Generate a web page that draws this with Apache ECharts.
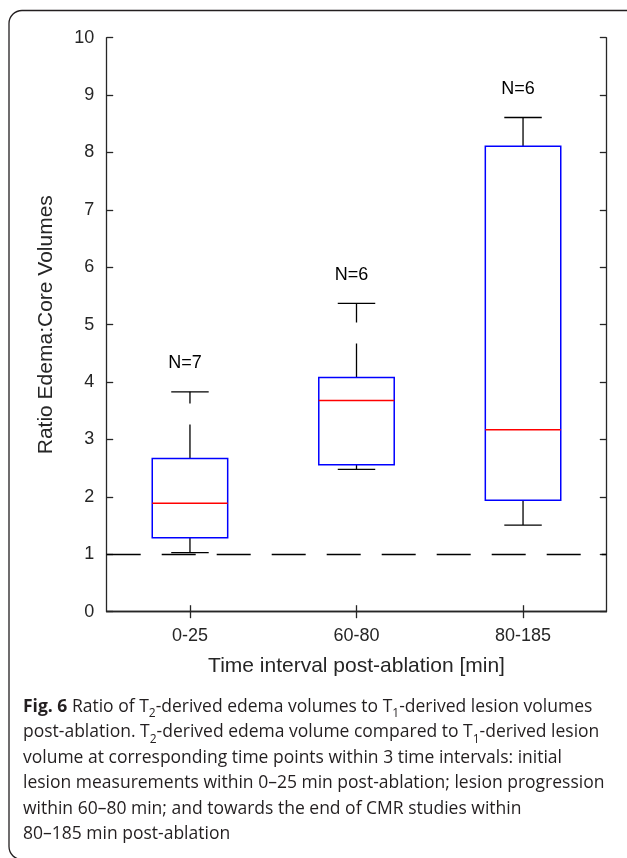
<!DOCTYPE html>
<html><head><meta charset="utf-8">
<script src="https://cdn.jsdelivr.net/npm/echarts@6/dist/echarts.min.js"></script>
<style>html,body{margin:0;padding:0;background:#fff}#c{width:627px;height:858px}</style>
</head><body><div id="c"></div>
<script>
// ---- data ----
const categories = ['0-25', '60-80', '80-185'];
const lowerWhisker = [1.03, 2.48, 1.51];
const q1 = [1.29, 2.56, 1.94];
const median = [1.89, 3.68, 3.17];
const q3 = [2.67, 4.08, 8.11];
const upperWhisker = [3.83, 5.37, 8.61];
const nLabels = ['N=7', 'N=6', 'N=6'];
const refValue = 1;
const yMin = 0, yMax = 10, yStep = 1;
const xTitle = 'Time interval post-ablation [min]';
const yTitle = 'Ratio Edema:Core Volumes';
const captionLines = [
  '{b|Fig. 6} Ratio of T{s|2}-derived edema volumes to T{s|1}-derived lesion volumes',
  'post-ablation. T{s|2}-derived edema volume compared to T{s|1}-derived lesion',
  'volume at corresponding time points within 3 time intervals: initial',
  'lesion measurements within 0\u201325 min post-ablation; lesion progression',
  'within 60\u201380 min; and towards the end of CMR studies within',
  '80\u2013185 min post-ablation'
];

// ---- styling ----
const axisColor = '#262626';
const font = '"Liberation Sans", Arial, Helvetica, sans-serif';
const capFont = '"Open Sans", "Noto Sans", sans-serif';
const capSize = 17.5;
const dash = [34, 21];
const labelOffset = 0.5;

const boxData = categories.map((c, i) => [i, lowerWhisker[i], q1[i], median[i], q3[i], upperWhisker[i], nLabels[i]]);

function renderBox(params, api) {
  const i = api.value(0);
  const cx = api.coord([i, 0])[0];
  const band = api.size([1, 0])[0];
  const half = band * 0.2265;
  const capHalf = band * 0.1125;
  const y = v => api.coord([i, v])[1];
  const yLo = y(api.value(1)), yQ1 = y(api.value(2)), yMed = y(api.value(3)),
        yQ3 = y(api.value(4)), yHi = y(api.value(5));
  const yLab = y(api.value(5) + labelOffset);
  const black = {stroke: '#000', lineWidth: 1.3, fill: null};
  return {
    type: 'group',
    children: [
      {type: 'line', shape: {x1: cx, y1: yQ3, x2: cx, y2: yHi}, style: Object.assign({lineDash: dash}, black)},
      {type: 'line', shape: {x1: cx, y1: yQ1, x2: cx, y2: yLo}, style: Object.assign({lineDash: dash}, black)},
      {type: 'line', shape: {x1: cx - capHalf, y1: yHi, x2: cx + capHalf, y2: yHi}, style: black},
      {type: 'line', shape: {x1: cx - capHalf, y1: yLo, x2: cx + capHalf, y2: yLo}, style: black},
      {type: 'rect', shape: {x: cx - half, y: yQ3, width: 2 * half, height: yQ1 - yQ3},
        style: {fill: 'none', stroke: '#0000ff', lineWidth: 1.5}},
      {type: 'line', shape: {x1: cx - half, y1: yMed, x2: cx + half, y2: yMed},
        style: {stroke: '#ff0000', lineWidth: 1.4}},
      {type: 'text', style: {text: nLabels[i], x: cx - 5, y: yLab, align: 'center', verticalAlign: 'middle',
        font: '18px ' + font, fill: '#000'}}
    ]
  };
}

const chart = echarts.init(document.getElementById('c'), null, {renderer: 'canvas', width: 627, height: 858});

const axisLine = {show: true, lineStyle: {color: axisColor, width: 1.3}};
const tickIn = {show: true, inside: true, length: 6.5, lineStyle: {color: axisColor, width: 1.3}};

const graphics = [
  {type: 'rect', shape: {x: 9, y: 10.5, width: 640, height: 849, r: 13},
    style: {fill: 'none', stroke: '#231f20', lineWidth: 1.3}, z: 0, silent: true}
];
captionLines.forEach((t, k) => {
  graphics.push({
    type: 'text', x: 23, y: 707 + k * 25.5, silent: true,
    style: {
      text: t, align: 'left', verticalAlign: 'middle',
      font: capSize + 'px ' + capFont, fill: '#231f20', lineHeight: 26,
      rich: {
        b: {fontFamily: capFont, fontSize: capSize, fontWeight: 'bold', lineHeight: 26, verticalAlign: 'middle', fill: '#231f20'},
        s: {fontFamily: capFont, fontSize: 12, lineHeight: 16, verticalAlign: 'bottom', fill: '#231f20'}
      }
    }
  });
});

chart.setOption({
  animation: false,
  backgroundColor: '#fff',
  grid: {left: 106.7, right: 20.7, top: 37.7, bottom: 246.3, containLabel: false, outerBoundsMode: 'none'},
  xAxis: [
    {type: 'category', data: categories, position: 'bottom', boundaryGap: true,
      axisLine: axisLine, axisTick: Object.assign({alignWithLabel: true}, tickIn),
      axisLabel: {color: axisColor, fontSize: 18, fontFamily: font, margin: 15},
      splitLine: {show: false},
      name: xTitle, nameLocation: 'middle', nameGap: 44,
      nameTextStyle: {fontSize: 21, color: axisColor, fontFamily: font}},
    {type: 'category', data: categories, position: 'top', boundaryGap: true,
      axisLine: axisLine, axisTick: Object.assign({alignWithLabel: true}, tickIn),
      axisLabel: {show: false}, splitLine: {show: false}}
  ],
  yAxis: [
    {type: 'value', min: yMin, max: yMax, interval: yStep, position: 'left',
      axisLine: axisLine, axisTick: tickIn,
      axisLabel: {color: axisColor, fontSize: 18, fontFamily: font, margin: 12.5},
      splitLine: {show: false},
      name: yTitle, nameLocation: 'middle', nameGap: 50, nameRotate: 90,
      nameTextStyle: {fontSize: 21, color: axisColor, fontFamily: font}},
    {type: 'value', min: yMin, max: yMax, interval: yStep, position: 'right',
      axisLine: axisLine, axisTick: tickIn, axisLabel: {show: false}, splitLine: {show: false}}
  ],
  series: [
    {type: 'custom', xAxisIndex: 0, yAxisIndex: 0, renderItem: renderBox,
      encode: {x: 0, y: [1, 2, 3, 4, 5]}, data: boxData, silent: true, clip: false},
    {type: 'line', xAxisIndex: 0, yAxisIndex: 0, data: [], silent: true,
      markLine: {silent: true, symbol: 'none', animation: false, label: {show: false},
        lineStyle: {color: '#000', width: 1.3, type: dash},
        emphasis: {disabled: true},
        data: [{yAxis: refValue}]}}
  ],
  graphic: graphics
});
</script></body></html>
